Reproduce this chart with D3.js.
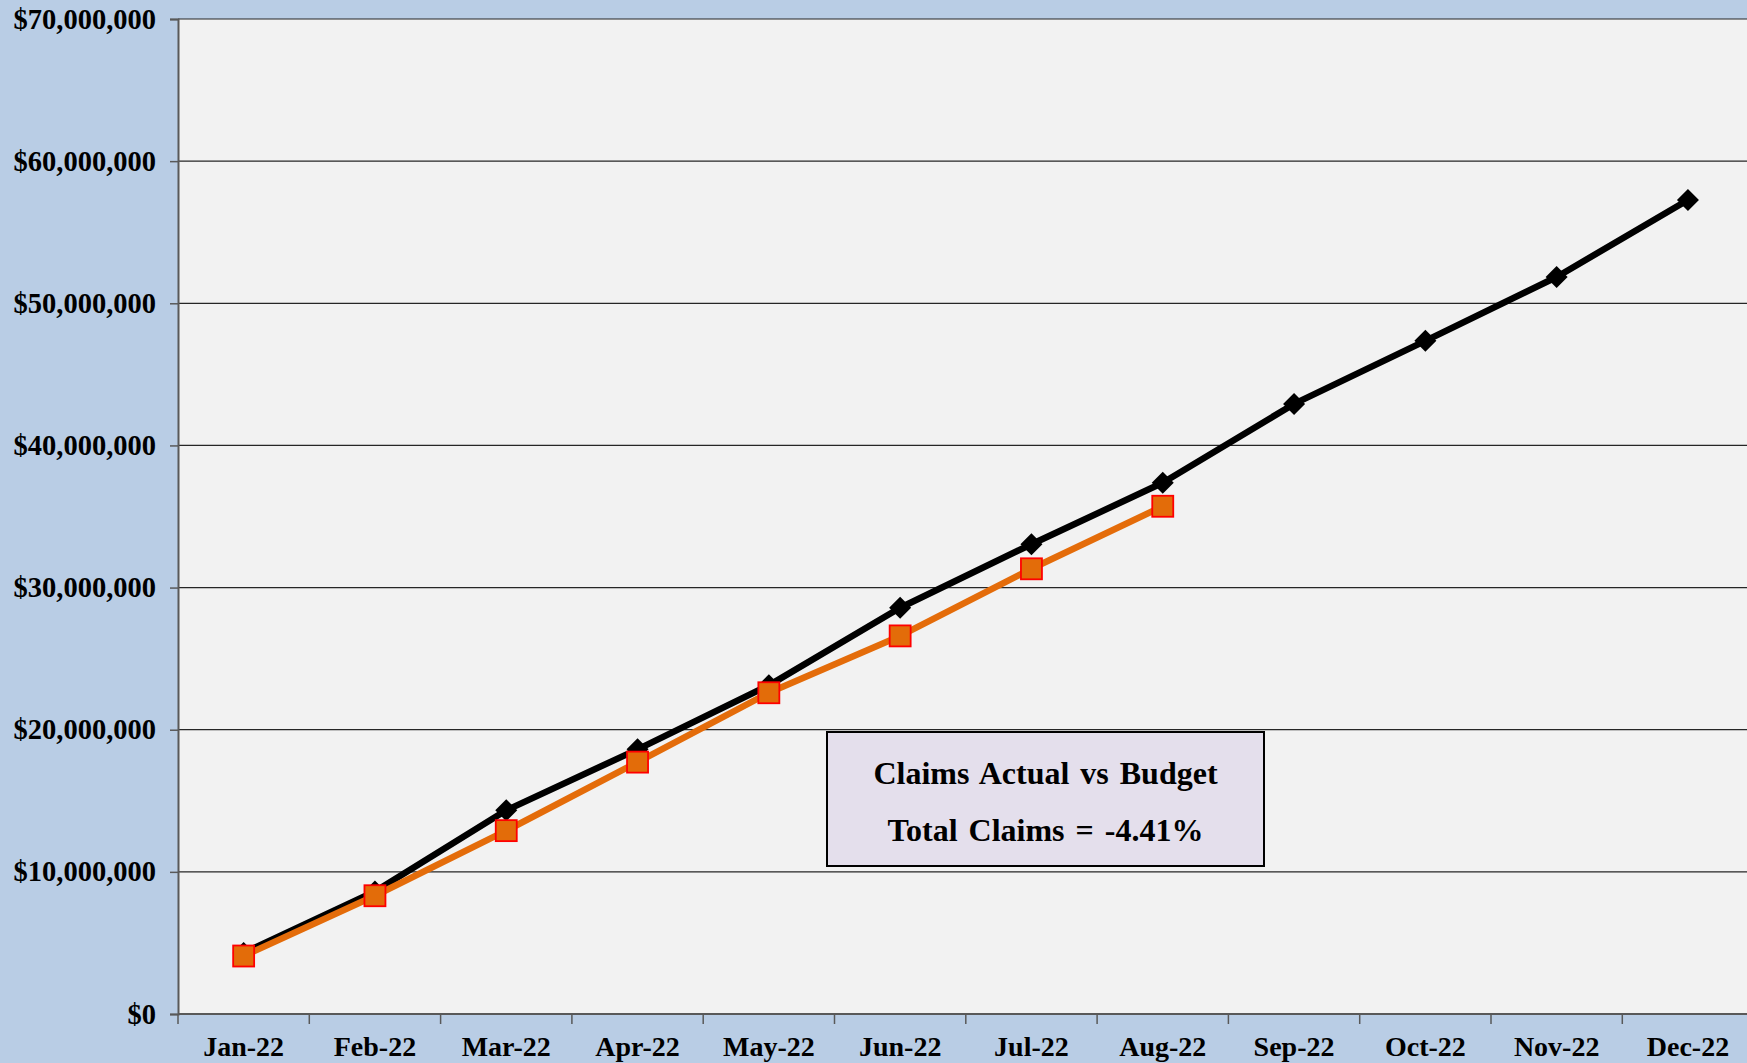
<!DOCTYPE html>
<html>
<head>
<meta charset="utf-8">
<script src="https://cdn.jsdelivr.net/npm/d3@7"></script>
<style>
  html, body { margin: 0; padding: 0; background: #B9CDE5; overflow: hidden; }
  text { font-family: "Liberation Serif", "Times New Roman", serif; font-weight: bold; }
</style>
</head>
<body>
<script>
var months = ['Jan-22', 'Feb-22', 'Mar-22', 'Apr-22', 'May-22', 'Jun-22',
              'Jul-22', 'Aug-22', 'Sep-22', 'Oct-22', 'Nov-22', 'Dec-22'];
var budget = [4300000, 8620000, 14330000, 18620000, 23120000, 28580000,
              33050000, 37370000, 42920000, 47360000, 51850000, 57270000];
var actual = [4080000, 8320000, 12900000, 17720000, 22600000, 26600000,
              31320000, 35720000];
var yTicks = [0, 10000000, 20000000, 30000000, 40000000, 50000000, 60000000, 70000000];
var boxLines = ['Claims Actual vs Budget', 'Total Claims = -4.41%'];

var width = 1747;
var height = 1063;
var plotLeft = 178, plotTop = 19, plotBottom = 1014;
var step = 131.3;

var svg = d3.select('body').append('svg')
  .attr('width', width).attr('height', height);

svg.append('rect').attr('width', width).attr('height', height).attr('fill', '#B9CDE5');

var x = d3.scaleBand().domain(months).range([plotLeft, plotLeft + step * months.length]);
var y = d3.scaleLinear().domain([0, 70000000]).range([plotBottom, plotTop]);

// plot area
svg.append('rect')
  .attr('x', plotLeft).attr('y', plotTop)
  .attr('width', width - plotLeft).attr('height', plotBottom - plotTop)
  .attr('fill', '#F2F2F2');

// gridlines
svg.selectAll('line.grid')
  .data(yTicks.filter(d => d > 0))
  .enter().append('line')
  .attr('class', 'grid')
  .attr('x1', plotLeft).attr('x2', width)
  .attr('y1', d => y(d)).attr('y2', d => y(d))
  .attr('stroke', '#262626').attr('stroke-width', 1.2);

// y axis
var yAxis = svg.append('g')
  .attr('transform', 'translate(' + plotLeft + ',0)')
  .call(d3.axisLeft(y).tickValues(yTicks).tickSize(8).tickPadding(14)
    .tickFormat(d => '$' + d3.format(',')(d)));
yAxis.select('.domain').attr('stroke', '#595959').attr('stroke-width', 2);
yAxis.selectAll('.tick line').attr('stroke', '#595959').attr('stroke-width', 1.5);
yAxis.selectAll('.tick text')
  .attr('font-size', 28.5).attr('fill', '#000')
  .attr('font-family', '"Liberation Serif", "Times New Roman", serif')
  .attr('font-weight', 'bold');

// x axis
var xAxis = svg.append('g')
  .attr('transform', 'translate(0,' + plotBottom + ')')
  .call(d3.axisBottom(x).tickSize(0).tickPadding(22));
xAxis.select('.domain').remove();
xAxis.selectAll('.tick text')
  .attr('font-size', 28).attr('fill', '#000')
  .attr('font-family', '"Liberation Serif", "Times New Roman", serif')
  .attr('font-weight', 'bold');

svg.append('line')
  .attr('x1', plotLeft).attr('x2', width)
  .attr('y1', plotBottom).attr('y2', plotBottom)
  .attr('stroke', '#595959').attr('stroke-width', 2);

svg.selectAll('line.xtick')
  .data(months)
  .enter().append('line')
  .attr('class', 'xtick')
  .attr('x1', d => x(d)).attr('x2', d => x(d))
  .attr('y1', plotBottom).attr('y2', plotBottom + 10)
  .attr('stroke', '#595959').attr('stroke-width', 1.5);

var cx = (d, i) => x(months[i]) + x.bandwidth() / 2;
var line = d3.line().x(cx).y(d => y(d));

// budget series
svg.append('path')
  .datum(budget)
  .attr('d', line)
  .attr('fill', 'none').attr('stroke', '#000').attr('stroke-width', 6.5)
  .attr('stroke-linejoin', 'round');

svg.selectAll('path.diamond')
  .data(budget)
  .enter().append('path')
  .attr('class', 'diamond')
  .attr('d', 'M0,-11L11,0L0,11L-11,0Z')
  .attr('transform', (d, i) => 'translate(' + cx(d, i) + ',' + y(d) + ')')
  .attr('fill', '#000');

// actual series
svg.append('path')
  .datum(actual)
  .attr('d', line)
  .attr('fill', 'none').attr('stroke', '#E46C0A').attr('stroke-width', 6.5)
  .attr('stroke-linejoin', 'round');

svg.selectAll('rect.sq')
  .data(actual)
  .enter().append('rect')
  .attr('class', 'sq')
  .attr('x', (d, i) => cx(d, i) - 10.5).attr('y', d => y(d) - 10.5)
  .attr('width', 21).attr('height', 21)
  .attr('fill', '#E36C09').attr('stroke', '#FF0000').attr('stroke-width', 1.8);

// annotation box
var box = svg.append('g');
box.append('rect')
  .attr('x', 827).attr('y', 732).attr('width', 437).attr('height', 134)
  .attr('fill', '#E4DFEC').attr('stroke', '#000').attr('stroke-width', 2);
box.selectAll('text')
  .data(boxLines)
  .enter().append('text')
  .attr('x', 1045.5).attr('y', (d, i) => 784 + i * 57)
  .attr('text-anchor', 'middle')
  .attr('font-size', 32).attr('word-spacing', 3).attr('fill', '#000')
  .text(d => d);
</script>
</body>
</html>
